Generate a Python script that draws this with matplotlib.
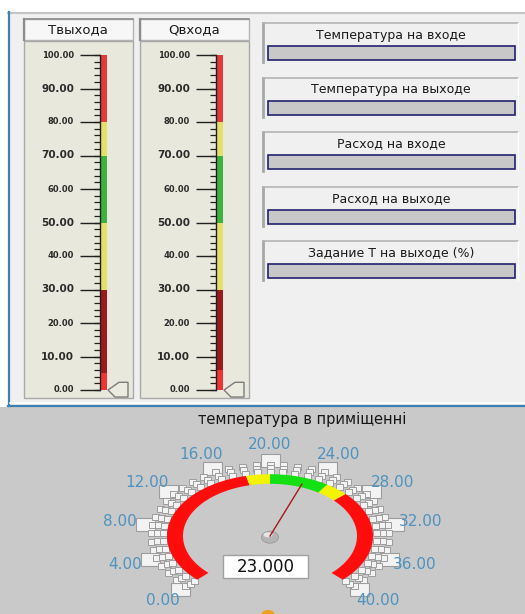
import numpy as np
import matplotlib
matplotlib.use("Agg")
import matplotlib.pyplot as plt
from matplotlib.patches import Rectangle, Polygon, Ellipse

W, H = 525, 614

# термометры
therm_titles = ["Твыхода", "Qвхода"]
therm_values = [5.0, 6.0]
therm_ticks = np.arange(0, 101, 10)
therm_minor = np.arange(0, 101, 2)
zone_bounds = [0, 30, 50, 70, 80, 100]
zone_colors = ["#9c1a1a", "#e6df6a", "#3cb33c", "#e6df6a", "#e23a3a"]
value_color = "#f03434"

# поля индикации
field_labels = ["Температура на входе", "Температура на выходе",
                "Расход на входе", "Расход на выходе",
                "Задание Т на выходе (%)"]

# стрелочный прибор
gauge_title = "температура в приміщенні"
gauge_value = 23.0
gauge_min, gauge_max = 0, 40
gauge_major = np.arange(0, 41, 4)
gauge_minor = np.arange(0, 41, 1)
gauge_zones = [0, 18, 20, 25, 27, 40]
gauge_zone_colors = ["#ff0d0d", "#f4f400", "#14e014", "#f4f400", "#ff0d0d"]


def px_axes(fig, x, y, w, h):
    return fig.add_axes([x / W, 1 - (y + h) / H, w / W, h / H])


fig = plt.figure(figsize=(W / 100, H / 100), dpi=100)
fig.patch.set_facecolor("white")

bg = px_axes(fig, 0, 0, W, H)
bg.set_xlim(0, W)
bg.set_ylim(H, 0)
bg.axis("off")

# фон панелей
bg.add_patch(Rectangle((8, 12), W - 8, 393, fc="#f0f0f0", ec="none"))
bg.plot([8, W], [13, 13], color="#c4c4c4", lw=1.5)
bg.add_patch(Rectangle((0, 407), W, H - 407, fc="#c9c9c9", ec="none"))
bg.plot([9, 9], [12, 406], color="#3d80b4", lw=1.6)
bg.plot([8, W], [405.5, 405.5], color="#3d80b4", lw=1.6)
bg.plot([10, W], [403, 403], color="white", lw=1.2)

# термометры
for i, title in enumerate(therm_titles):
    x0 = 24 + 116 * i
    bg.add_patch(Rectangle((x0, 19), 109, 21, fc="#f7f7f7", ec="#b4b4b4", lw=1))
    bg.plot([x0, x0], [19, 40], color="#8c8c8c", lw=1.6)
    bg.plot([x0, x0 + 109], [19, 19], color="#8c8c8c", lw=1.2)
    bg.text(x0 + 54, 30, title, ha="center", va="center", fontsize=9.5,
            color="#1a1a1a")
    bg.add_patch(Rectangle((x0, 41), 109, 357, fc="#e9e8dc", ec="#a9a9a9", lw=1))

    ax = px_axes(fig, x0, 41, 109, 357)
    ax.set_xlim(0, 109)
    ax.set_ylim(-8 / 3.35, 100 + 14 / 3.35)
    ax.axis("off")
    for lo, hi, c in zip(zone_bounds[:-1], zone_bounds[1:], zone_colors):
        ax.bar(79.5, hi - lo, bottom=lo, width=6.5, color=c, linewidth=0)
    ax.bar(79.5, therm_values[i], bottom=0, width=6.5, color=value_color, linewidth=0)
    ax.plot([76, 76], [0, 100], color="#202020", lw=1)
    ax.hlines(therm_minor, 70, 76, color="#202020", lw=0.9)
    ax.hlines(therm_ticks, 56, 76, color="#202020", lw=1)
    for t in therm_ticks:
        big = t % 20 != 0
        ax.text(50, t, f"{t:.2f}", ha="right", va="center",
                fontsize=7.5 if big else 6, fontweight="bold", color="#2b2b2b")
    ax.add_patch(Polygon([(84, 0), (95, 2.3), (104, 2.3), (104, -2.1), (91, -2.1)],
                         closed=True, fc="#ecebe0", ec="#7a7a7a", lw=1))

# поля индикации
for k, label in enumerate(field_labels):
    top = 23 + 54.5 * k
    bg.add_patch(Rectangle((263, top), 255, 39, fc="#f0f0f0", ec="none"))
    bg.plot([263, 263], [top, top + 39], color="#a8a8a8", lw=2)
    bg.plot([263, 518], [top, top], color="#b4b4b4", lw=1.2)
    bg.plot([518, 518], [top, top + 39], color="white", lw=1)
    bg.text(391, top + 12, label, ha="center", va="center", fontsize=9,
            color="#1a1a1a")
    bg.add_patch(Rectangle((268, top + 23), 247, 14, fc="#c8c8c8",
                           ec="#22226e", lw=1.2))

# стрелочный прибор
bg.text(302, 419, gauge_title, ha="center", va="center", fontsize=10.5,
        color="#151515")

ys = 0.6  # сжатие по вертикали
cy = 536
gx = px_axes(fig, 0, 408, W, H - 408)
gx.axis("off")


def ang(v):
    return np.radians(225 - 270 * (v - gauge_min) / (gauge_max - gauge_min))


def block(r, v, w, h, lw=0.7):
    a = ang(v)
    gx.add_patch(Rectangle((r * np.cos(a) - w / 2, r * np.sin(a) - h / 2 / ys),
                           w, h / ys, fc="#f3f3f3", ec="#9c9c9c", lw=lw))


for v in gauge_major:
    block(126, v, 19, 13, 0.8)
for v in gauge_minor:
    for r in (119, 113, 107):
        block(r, v, 7, 6)
for v in gauge_major:
    a = ang(v)
    gx.text(152 * np.cos(a), 152 * np.sin(a), f"{v:.2f}", ha="center",
            va="center", fontsize=11, color="#4e93bf")

for lo, hi, c in zip(gauge_zones[:-1], gauge_zones[1:], gauge_zone_colors):
    th = np.linspace(ang(lo), ang(hi), 60)
    xs = np.concatenate([103 * np.cos(th), 87 * np.cos(th[::-1])])
    yv = np.concatenate([103 * np.sin(th), 87 * np.sin(th[::-1])])
    gx.fill(xs, yv, color=c, lw=0)

a = ang(gauge_value)
gx.plot([0, 92 * np.cos(a)], [0, 92 * np.sin(a)], color="#a81818", lw=1)
gx.add_patch(Ellipse((0, -2), 17, 12 / ys, fc="#b4b4b4", ec="#9a9a9a", lw=0.6))
gx.add_patch(Ellipse((-2, 2), 9, 5 / ys, fc="#e6e6e6", ec="none"))
gx.add_patch(Rectangle((-47, -70), 85, 38, fc="white", ec="#a0a0a0", lw=1))
gx.text(-4, -51, f"{gauge_value:.3f}", ha="center", va="center", fontsize=12,
        color="#111111")
gx.add_patch(Ellipse((-2, -(615 - cy) / ys), 14, 10 / ys, fc="#f0a020", ec="none"))

gx.set_xlim(-270, W - 270)
gx.set_ylim(-(H - cy) / ys, (cy - 408) / ys)

fig.savefig("out.png", dpi=100)
